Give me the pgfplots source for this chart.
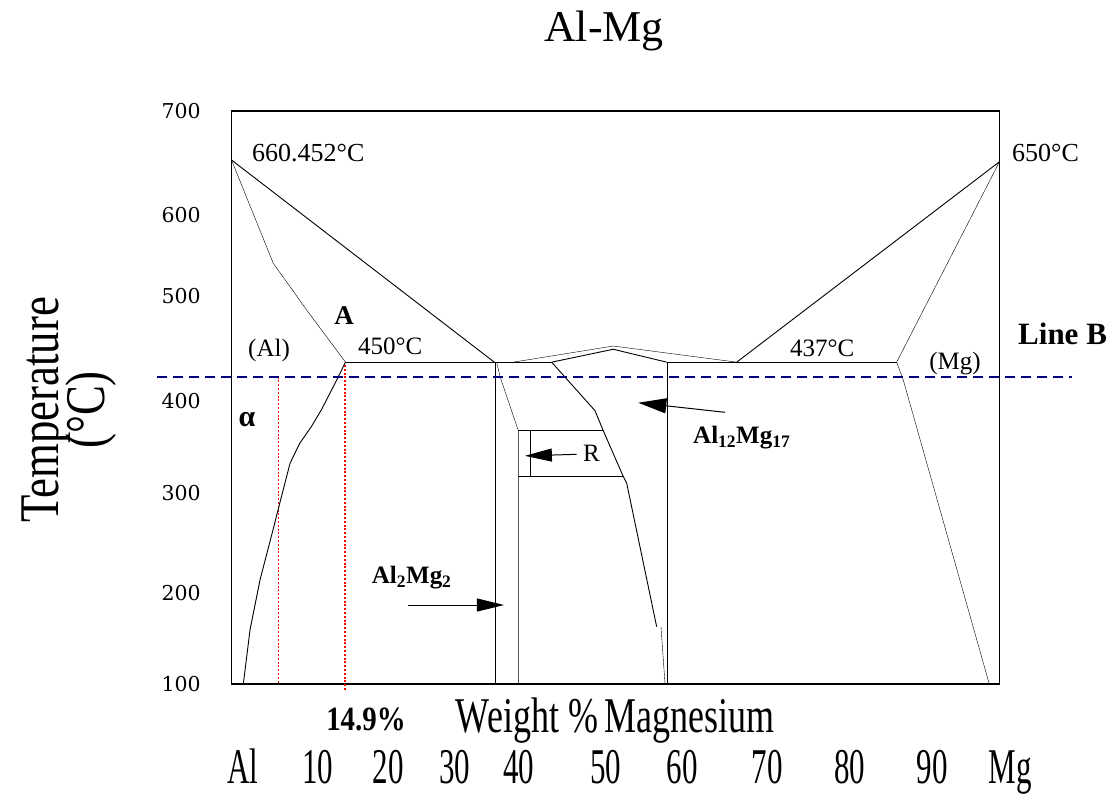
\documentclass[border=0pt]{standalone}
\usepackage{pgfplots}
\pgfplotsset{compat=1.18}
\usepackage{graphicx}
\usepackage{fontspec}
\setmainfont{Liberation Serif}
\newfontfamily\tickfont{DejaVu Serif}
\usetikzlibrary{arrows.meta}
\definecolor{navyb}{RGB}{0,0,128}
\definecolor{dotred}{RGB}{255,0,0}
\newcommand{\cx}[2]{\scalebox{#1}[1]{#2}}
\newcommand{\bx}[1]{\cx{0.62}{#1}}
\begin{document}
\begin{tikzpicture}
\path[use as bounding box] (0,0) rectangle (1114pt,795pt);
\begin{axis}[
  at={(231.5pt,111pt)}, anchor=south west,
  scale only axis, width=768pt, height=573pt,
  xmin=0, xmax=100, ymin=100, ymax=700,
  clip=false,
  axis line style={line width=1.5pt},
  major tick length=0pt, tick style={draw=none},
  no markers,
  cycle list={{black,solid,line width=0.9pt}},
  xtick={1.5,11.26,20.38,29.1,37.4,48.76,58.66,69.73,80.53,91.21},
  xticklabels={\bx{Al},\bx{10},\bx{20},\bx{30},\bx{40},\bx{50},\bx{60},\bx{70},\bx{80},\bx{90}},
  xticklabel style={anchor=base, inner sep=0pt, yshift=-100pt, font=\fontsize{50}{50}\selectfont},
  ytick={100,195.3,300,396.3,506.3,591.1,700},
  yticklabels={100,200,300,400,500,600,700},
  yticklabel style={anchor=east, inner sep=0pt, xshift=-30.5pt, font=\tickfont\fontsize{20.5}{20.5}\selectfont},
]
% red dotted lines (drawn first)
\addplot[dotred, line width=1.8pt, dash pattern=on 2pt off 1.8pt] coordinates {(6.12,421.8) (6.12,100)};
\addplot[dotred, line width=1.8pt, dash pattern=on 2pt off 1.8pt] coordinates {(14.80,434) (14.80,91.9)};
% Al side
\addplot coordinates {(0,648.7) (34.22,437)};
\addplot coordinates {(0,648.7) (5.44,540.5) (9.79,491.6) (14.84,437)};
\addplot coordinates {(14.84,437) (41.69,437)};
\addplot coordinates {(14.84,437) (13.70,418.3) (11.69,386.9) (10.39,369.4) (8.88,352.0) (7.62,331.1) (6.28,289.2) (5.40,261.3) (3.71,208.9) (2.41,156.6) (1.54,100)};
% Al3Mg2 / R region
\addplot coordinates {(34.3,437) (34.3,100)};
\addplot coordinates {(34.53,437) (34.96,422) (37.35,365.2) (37.35,100)};
\addplot coordinates {(37.35,365.2) (48.41,365.2)};
\addplot coordinates {(37.35,317.1) (51.02,317.1)};
\addplot coordinates {(38.87,365.2) (38.87,317.1)};
\addplot coordinates {(41.69,437) (47.33,386.2) (48.41,365.2) (51.02,317.1) (51.46,310.2) (55.36,160)};
\addplot coordinates {(55.92,160) (56.45,100)};
% gamma
\addplot coordinates {(36.69,437) (49.71,453.9) (65.78,437)};
\addplot coordinates {(41.69,437) (49.71,450.5) (56.67,437)};
\addplot coordinates {(56.67,437) (86.61,437)};
\addplot coordinates {(56.67,437) (56.67,100)};
% Mg side
\addplot coordinates {(65.78,437) (100,646.9)};
\addplot coordinates {(86.61,437) (100,646.9)};
\addplot coordinates {(86.61,437) (87.47,418.3) (98.67,100)};
% Line B
\addplot[navyb, line width=1.8pt, dash pattern=on 10pt off 6pt] coordinates {(-9.7,421.8) (109.4,421.8)};
% arrows
\addplot[black, line width=1pt, -{Triangle[length=27pt,width=13pt]}] coordinates {(23.03,182.7) (35.48,182.7)};
\addplot[black, line width=1pt, -{Triangle[length=28pt,width=15pt]}] coordinates {(64.26,384.5) (52.97,394.5)};
\addplot[black, line width=1pt, -{Triangle[length=27pt,width=13pt]}] coordinates {(44.95,340.5) (38.2,338.9)};
\node[anchor=base, inner sep=0pt, font=\fontsize{50}{50}\selectfont] at (axis cs:101.37,100) [yshift=-100pt] {\bx{Mg}};
\end{axis}
% texts
\node[anchor=base, inner sep=0pt, font=\fontsize{44}{44}\selectfont] at (604pt,753pt) {Al-Mg};
\node[anchor=base west, inner sep=0pt, font=\fontsize{26}{26}\selectfont] at (252pt,633pt) {660.452°C};
\node[anchor=base west, inner sep=0pt, font=\fontsize{26}{26}\selectfont] at (1012pt,633pt) {650°C};
\node[anchor=base, inner sep=0pt, font=\bfseries\fontsize{27}{27}\selectfont] at (344pt,470pt) {A};
\node[anchor=base, inner sep=0pt, font=\fontsize{25}{25}\selectfont] at (269pt,438.3pt) {(Al)};
\node[anchor=base west, inner sep=0pt, font=\fontsize{25}{25}\selectfont] at (358pt,440pt) {450°C};
\node[anchor=base west, inner sep=0pt, font=\fontsize{25}{25}\selectfont] at (790pt,438.3pt) {437°C};
\node[anchor=base, inner sep=0pt, font=\fontsize{25}{25}\selectfont] at (955pt,425pt) {(Mg)};
\node[anchor=base west, inner sep=0pt, font=\bfseries\fontsize{31}{31}\selectfont] at (1018pt,450pt) {Line B};
\node[anchor=base, inner sep=0pt, font=\bfseries\fontsize{30}{30}\selectfont] at (247pt,368.3pt) {α};
\node[anchor=base west, inner sep=0pt, font=\fontsize{25}{25}\selectfont] at (583pt,333.3pt) {R};
\node[anchor=base west, inner sep=0pt, font=\bfseries\fontsize{25}{25}\selectfont] at (693pt,351.7pt) {Al\textsubscript{12}Mg\textsubscript{17}};
\node[anchor=base west, inner sep=0pt, font=\bfseries\fontsize{25}{25}\selectfont] at (371.7pt,211.7pt) {Al\textsubscript{2}Mg\textsubscript{2}};
\node[anchor=base, inner sep=0pt, font=\bfseries\fontsize{34}{34}\selectfont] at (366pt,64pt) {\cx{0.85}{14.9\%}};
\node[anchor=base, inner sep=0pt, font=\fontsize{50}{50}\selectfont] at (615pt,62pt) {\cx{0.72}{Weight \%\,Magnesium}};
\node[rotate=90, inner sep=0pt, font=\fontsize{56}{56}\selectfont] at (46pt,385pt) {\cx{0.8}{Temperature}};
\node[rotate=90, inner sep=0pt, font=\fontsize{56}{56}\selectfont] at (91pt,385pt) {\cx{0.8}{(°C)}};
\end{tikzpicture}
\end{document}
